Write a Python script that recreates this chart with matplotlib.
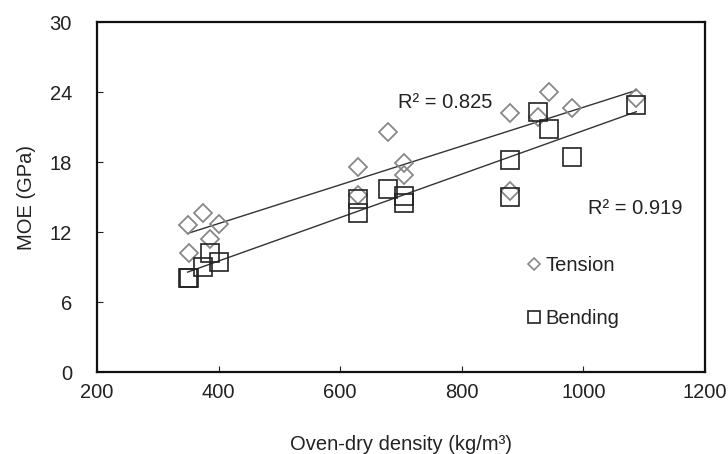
import numpy as np
import matplotlib
matplotlib.use("Agg")
import matplotlib.pyplot as plt
from matplotlib.lines import Line2D

plt.rcParams['font.family'] = ['Liberation Sans', 'DejaVu Sans']

# ---- data ----
density = [349, 352, 375, 386, 400, 630, 630, 678, 705, 705, 880, 880, 925, 944, 981, 1087]
tension = [12.6, 10.2, 13.65, 11.4, 12.7, 17.6, 15.2, 20.6, 17.9, 16.9, 22.2, 15.5, 21.9, 24.0, 22.6, 23.5]
bending = [8.1, 8.1, 9.0, 10.2, 9.4, 14.8, 13.6, 15.7, 15.1, 14.5, 18.2, 15.0, 22.3, 20.8, 18.45, 22.9]
series_names = ["Tension", "Bending"]
r2_labels = ["R² = 0.825", "R² = 0.919"]
xticks = [200, 400, 600, 800, 1000, 1200]
yticks = [0, 6, 12, 18, 24, 30]

FS = 14.5
TXT = '#222222'

fig = plt.figure(figsize=(7.28, 4.54), dpi=100)
ax = fig.add_axes([97/728, 1-372/454, 608/728, 350/454])

x = np.array(density, dtype=float)
t = np.array(tension)
b = np.array(bending)

# trend lines
xs = np.array([x.min(), x.max()])
for y in (t, b):
    p = np.polyfit(x, y, 1)
    ax.plot(xs, np.polyval(p, xs), color='#333333', lw=1.0, zorder=1)

ax.plot(x, t, linestyle='none', marker='D', ms=9.4, mfc='none', mec='#888888', mew=1.3, zorder=3)
ax.plot(x, b, linestyle='none', marker='s', ms=13.5, mfc='none', mec='#222222', mew=1.2, zorder=3)

ax.text(695, 23.1, r2_labels[0], ha='left', va='center', fontsize=FS, color=TXT)
ax.text(1007, 14.0, r2_labels[1], ha='left', va='center', fontsize=FS, color=TXT)

handles = [Line2D([], [], linestyle='none', marker='D', ms=6, mfc='none', mec='#888888', mew=1.2),
           Line2D([], [], linestyle='none', marker='s', ms=8, mfc='none', mec='#222222', mew=1.2)]
leg = ax.legend(handles, series_names, loc='center left', bbox_to_anchor=(528/728, 1-292/454),
                bbox_transform=fig.transFigure, frameon=False, fontsize=FS, handlelength=0.6,
                handletextpad=0.25, labelspacing=1.65, borderpad=0, borderaxespad=0)
for txt in leg.get_texts():
    txt.set_color(TXT)

ax.set_xlim(200, 1200)
ax.set_ylim(0, 30)
ax.set_xticks(xticks)
ax.set_yticks(yticks)
ax.tick_params(direction='in', length=4, width=0.8, colors=TXT, labelsize=FS)
ax.tick_params(axis='y', pad=18)
ax.tick_params(axis='x', pad=8)
for s in ax.spines.values():
    s.set_linewidth(1.6)
    s.set_color('#111111')

ax.set_xlabel("Oven-dry density (kg/m³)", fontsize=FS, color=TXT)
ax.set_ylabel("MOE (GPa)", fontsize=FS, color=TXT)
ax.xaxis.set_label_coords(0.5, -0.18)
ax.yaxis.set_label_coords(-0.10, 0.5)

fig.savefig("out.png", dpi=100, facecolor='white')
